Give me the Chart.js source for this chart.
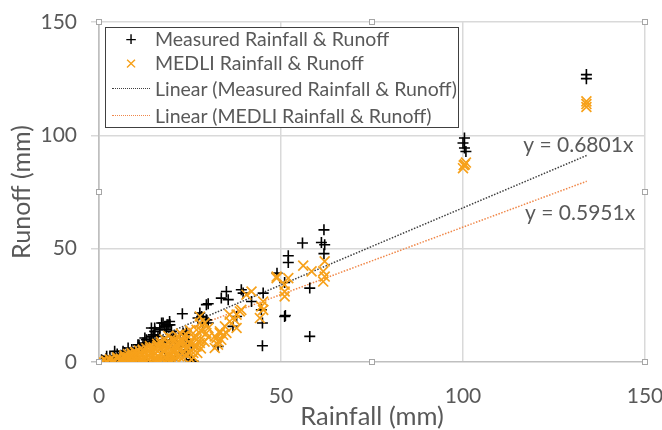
<!DOCTYPE html>
<html>
<head>
<meta charset="utf-8">
<script src="https://cdn.jsdelivr.net/npm/chart.js@4.4.1/dist/chart.umd.min.js"></script>
<style>
  html, body { margin: 0; padding: 0; background: #fff; }
  #wrap { position: relative; width: 662px; height: 430px; }
  #legend {
    position: absolute; left: 105px; top: 27px; width: 352px; height: 99px;
    border: 1px solid #404040; background: #fff; box-sizing: content-box;
    font-family: Lato, "Open Sans", sans-serif; font-size: 19.5px; color: #595959;
  }
  .row { position: absolute; left: 0; height: 25px; line-height: 25px; white-space: nowrap; }
  .sym { position: absolute; left: 0; width: 50px; text-align: center; }
  .txt { position: absolute; left: 49px; }
  .ln { position: absolute; left: 6px; width: 38px; top: 12px; border-top: 1.5px dotted; }
</style>
</head>
<body>
<div id="wrap">
  <canvas id="c" width="662" height="430"></canvas>
  <div id="legend"></div>
</div>
<script>
// ---- Data ----
const seriesNames = ["Measured Rainfall & Runoff", "MEDLI Rainfall & Runoff",
                     "Linear (Measured Rainfall & Runoff)", "Linear (MEDLI Rainfall & Runoff)"];

const measuredRainfall = [
  133.9,133.9,100.4,100.0,100.4,100.8,61.8,61.1,62.0,55.9,61.8,52.0,52.0,48.9,51.0,51.0,51.2,
  57.9,57.9,45.1,44.6,44.9,44.9,41.9,39.1,39.6,35.0,33.6,35.5,30.0,37.8,27.7,29.5,36.8,32.7,
  22.9,28.6,24.0,19.4,18.7,15.3,16.7,14.4,12.6,13.0,8.0,4.3,
  28.2,27.2,28.6,30.0,17.6,19.0,16.7,18.5,15.3,23.1,24.0,22.2,23.6,24.5,25.4,25.9,20.8,19.5,
  21.3,15.8,14.9,14.0,19.9,18.1,17.2,18.1,19.5,14.4,14.9,16.2,19.9,20.4,20.8,17.6,12.1,14.0,
  10.7,9.8,6.6,3.9,2.1,0.7,23.6,24.0,24.9,29.5,
  5,7,8,9,10,11,12,13,14.5,15,19,25.5,1,2,3,5,6,7,9,10,10.8,11,12,13,15,16,17,18,20,21,22
];
const measuredRunoff = [
  126.8,125.0,98.8,96.6,94.4,92.9,58.3,52.7,51.7,52.5,47.8,46.9,43.9,39.2,35.1,20.1,20.5,
  32.6,11.3,30.4,23.0,17.2,7.2,26.7,31.9,30.4,31.1,28.2,27.5,25.7,20.1,21.6,18.6,15.7,6.9,
  21.3,19.4,13.5,17.9,16.4,15.0,14.2,11.3,10.6,9.8,6.2,4.7,
  20.1,19.4,17.2,17.2,17.2,16.4,15.0,14.2,13.5,12.8,12.0,10.6,9.8,8.4,6.9,0.3,11.3,9.8,
  8.4,9.8,11.3,8.4,1.0,1.8,17.2,15.7,16.4,15.0,12.0,11.3,13.5,11.3,9.1,8.4,8.4,9.1,
  7.6,5.4,4.7,2.5,2.5,1.0,5.4,2.5,1.0,25.3,
  0,0,0,0,0,0,0,0,0,0,0,0,0.5,1.5,2,3.5,3,4.2,5.5,5,4,7.5,6.5,8,7,9.5,7,9,6,4,7
];

const medliRainfall = [
  133.9,133.9,133.9,100.0,100.2,100.8,100.5,56.1,58.4,62.0,61.6,62.0,61.6,52.0,51.0,51.0,51.0,
  48.8,48.8,41.9,40.5,45.1,44.6,45.1,44.2,39.1,37.8,35.9,35.9,34.6,33.2,31.8,32.7,38.7,37.3,
  35.0,34.1,37.8,27.7,29.1,30.0,29.5,26.8,27.7,26.3,24.9,25.4,
  33.2,32.3,33.6,32.7,31.8,27.7,26.8,28.2,26.3,27.7,24.9,26.8,24.0,25.9,23.1,22.7,21.3,20.4,19.5,
  1,2,3,4,5,6,7,8,9,10,11,12,13,14,15,15,16,16,17,17,18,18,19,19,20,20,21,21,22,22,23,23,24,24,
  13,11,8,6,20,21.5,22.5,19,18,17,16,15,14,0.5,2,3.5,10,12,9,7,5,
  2,3,4,5,6,7,7,8,8,9,9,10,10,11,11,12,12,13,13,14,14,15,16,16,17,17,18,18,19,19,20,20,21,21,
  22,22,23,23,24,24,25,26,26,27,28,29,30,28,25,4,6,9,12,14,16,18,20,22
];
const medliRunoff = [
  115.0,112.5,113.8,85.5,86.8,88.0,87.2,42.5,40.0,44.4,40.0,37.7,35.5,37.0,34.1,31.1,28.9,
  37.0,37.7,31.1,29.7,26.7,24.5,23.0,19.4,23.0,20.9,20.9,17.9,15.7,13.5,11.3,9.1,22.3,18.6,
  12.8,12.0,15.0,20.1,17.2,15.0,12.8,9.8,8.4,6.9,4.0,1.0,
  12.8,10.6,9.8,7.6,6.2,17.2,14.2,13.5,10.6,9.8,8.4,6.9,5.4,4.0,11.3,9.1,6.9,4.7,3.2,
  0.2,0.5,0.8,1,1.5,0.8,1.8,2.2,1,2.8,1.5,3.2,2,4,1,3,5,2.5,6,1.5,4.5,7,3,8.5,5.5,1.5,7.5,3,9,5,2,7,10,3.5,
  0.5,0.3,0.5,0.2,10.5,11.5,12.5,11.5,10,9,8,6.5,6,0,0,0.1,4,5,3.5,2.5,2,
  0.3,1.2,0.4,2,1.5,0.6,3,1.2,3.5,2.5,4,0.8,4.5,2.5,5,1,5.5,3.5,6,2,7,4.5,1,7,3.5,8,2,5.5,6.5,1,3.5,8,5,9.5,
  2.5,7,4,9.5,6,12,8,2,11,4,6,9,11,14,14,0,0,0.2,0.1,0.3,0.2,0.4,0.3,0.2
];

const trendSlopes = [0.6801, 0.5951];
const trendRange = [0, 134];
const trendLabels = ["y = 0.6801x", "y = 0.5951x"];
const trendLabelAnchors = [[146.8, 95.7], [147.3, 65.7]]; // data coords: right edge, middle

const xTicks = [0, 50, 100, 150];
const yTicks = [0, 50, 100, 150];
const xTitle = "Rainfall (mm)";
const yTitle = "Runoff (mm)";

// ---- Build chart ----
const FONT = "Lato, 'Open Sans', sans-serif";
const GRAY = "#595959";
const BLACK = "#000000";
const ORANGE = "#F7A11A";
const ORANGE_LINE = "#F0884A";

function pts(xs, ys) { return xs.map((x, i) => ({ x: x, y: ys[i] })); }
function trend(k) { return trendRange.map(x => ({ x: x, y: trendSlopes[k] * x })); }

const handlesPlugin = {
  id: 'handles',
  afterDraw(chart) {
    const a = chart.chartArea, ctx = chart.ctx;
    const xs = [a.left, (a.left + a.right) / 2, a.right];
    const ys = [a.top, (a.top + a.bottom) / 2, a.bottom];
    ctx.save();
    ctx.lineWidth = 1; ctx.strokeStyle = "#a6a6a6"; ctx.fillStyle = "#fff";
    for (const x of xs) for (const y of ys) {
      if (x === xs[1] && y === ys[1]) continue;
      ctx.fillRect(Math.round(x) - 2.5, Math.round(y) - 2.5, 5, 5);
      ctx.strokeRect(Math.round(x) - 2.5, Math.round(y) - 2.5, 5, 5);
    }
    ctx.restore();
  }
};

const trendTextPlugin = {
  id: 'trendText',
  afterDatasetsDraw(chart) {
    const ctx = chart.ctx, sx = chart.scales.x, sy = chart.scales.y;
    ctx.save();
    ctx.font = "21px " + FONT;
    ctx.fillStyle = GRAY;
    ctx.textAlign = "right";
    ctx.textBaseline = "middle";
    trendLabels.forEach((t, i) => {
      ctx.fillText(t, sx.getPixelForValue(trendLabelAnchors[i][0]), sy.getPixelForValue(trendLabelAnchors[i][1]));
    });
    ctx.restore();
  }
};

new Chart(document.getElementById('c'), {
  type: 'scatter',
  data: {
    datasets: [
      { label: seriesNames[3], type: 'line', data: trend(1), borderColor: ORANGE_LINE, borderWidth: 1.5,
        borderDash: [1.5, 1.5], pointRadius: 0, fill: false, order: 3 },
      { label: seriesNames[2], type: 'line', data: trend(0), borderColor: "#404040", borderWidth: 1.5,
        borderDash: [1.5, 1.5], pointRadius: 0, fill: false, order: 2 },
      { label: seriesNames[0], data: pts(measuredRainfall, measuredRunoff), pointStyle: 'cross',
        pointRadius: 5.5, pointBorderWidth: 1.6, borderColor: BLACK, backgroundColor: BLACK, order: 1 },
      { label: seriesNames[1], data: pts(medliRainfall, medliRunoff), pointStyle: 'crossRot',
        pointRadius: 7, pointBorderWidth: 1.7, borderColor: ORANGE, backgroundColor: ORANGE, order: 0 }
    ]
  },
  options: {
    responsive: false,
    animation: false,
    devicePixelRatio: 1,
    layout: { padding: { left: 0, right: 17, top: 22, bottom: 0 } },
    plugins: { legend: { display: false }, tooltip: { enabled: false } },
    scales: {
      x: {
        type: 'linear', min: 0, max: 150,
        afterBuildTicks: (s) => { s.ticks = xTicks.map(v => ({ value: v })); },
        afterFit: (s) => { s.height = 68; s.paddingLeft = 0; s.paddingRight = 0; },
        grid: { color: (c) => c.tick && c.tick.value === 0 ? "#bfbfbf" : "#d9d9d9", lineWidth: 1.5, drawTicks: false },
        border: { display: false },
        ticks: { color: GRAY, font: { family: FONT, size: 21 }, padding: 22, maxRotation: 0 },
        title: { display: true, text: xTitle, color: GRAY, font: { family: FONT, size: 25.5, lineHeight: 1 },
                 padding: { top: 0, bottom: 0.5 } }
      },
      y: {
        type: 'linear', min: 0, max: 150,
        afterBuildTicks: (s) => { s.ticks = yTicks.map(v => ({ value: v })); },
        afterFit: (s) => { s.width = 99; s.paddingTop = 0; s.paddingBottom = 0; },
        grid: { color: (c) => c.tick && c.tick.value === 0 ? "#bfbfbf" : "#d9d9d9", lineWidth: 1.5, tickLength: 8 },
        border: { display: true, color: "#bfbfbf", width: 1.5 },
        ticks: { color: GRAY, font: { family: FONT, size: 21 }, padding: 14 },
        title: { display: true, text: yTitle, color: GRAY, font: { family: FONT, size: 25, lineHeight: 1.2 },
                 padding: { top: 7, bottom: 0 } }
      }
    }
  },
  plugins: [trendTextPlugin, handlesPlugin]
});

// ---- HTML legend built from the series names ----
const legendSpec = [
  { kind: 'text', ch: '+', color: BLACK },
  { kind: 'text', ch: '\u00d7', color: ORANGE },
  { kind: 'line', color: "#404040" },
  { kind: 'line', color: ORANGE_LINE }
];
const lg = document.getElementById('legend');
const rowTops = [-2, 22, 48, 75];
seriesNames.forEach((name, i) => {
  const row = document.createElement('div');
  row.className = 'row';
  row.style.top = rowTops[i] + 'px';
  const sp = legendSpec[i];
  if (sp.kind === 'text') {
    const s = document.createElement('span');
    s.className = 'sym'; s.textContent = sp.ch; s.style.color = sp.color; s.style.fontSize = '20px';
    row.appendChild(s);
  } else {
    const l = document.createElement('div');
    l.className = 'ln'; l.style.borderTopColor = sp.color;
    row.appendChild(l);
  }
  const t = document.createElement('span');
  t.className = 'txt'; t.textContent = name;
  row.appendChild(t);
  lg.appendChild(row);
});
</script>
</body>
</html>
